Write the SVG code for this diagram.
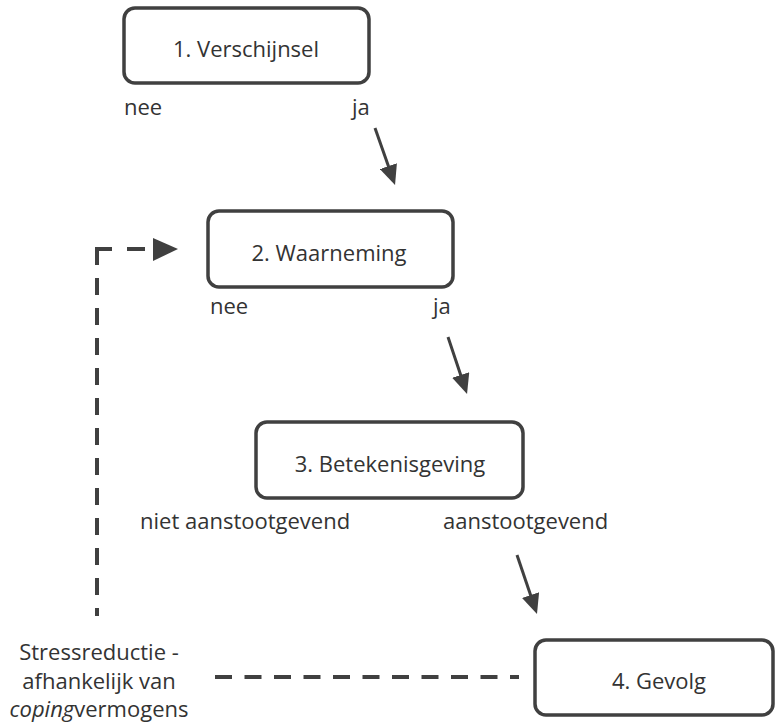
<svg xmlns="http://www.w3.org/2000/svg" width="776" height="723" viewBox="0 0 776 723">
<defs>
<style>
.box{fill:#fff;stroke:#404040;stroke-width:3.5}
.t{font-family:"Open Sans","Liberation Sans",sans-serif;font-size:22px;fill:#333}
.c{text-anchor:middle}
.solid{stroke:#404040;stroke-width:3;fill:none}
.dash{stroke:#404040;stroke-width:4;fill:none}
</style>
<marker id="ah" markerUnits="userSpaceOnUse" markerWidth="20" markerHeight="18" refX="6" refY="9" orient="auto">
<path d="M0,0 L20,9 L0,18 z" fill="#404040"/>
</marker>
</defs>
<rect width="776" height="723" fill="#fff"/>
<g id="connectors">
<line class="solid" x1="375" y1="128" x2="390.4" y2="171.8" marker-end="url(#ah)"/>
<line class="solid" x1="448" y1="337" x2="462.6" y2="380.7" marker-end="url(#ah)"/>
<line class="solid" x1="517" y1="555" x2="532.5" y2="600.7" marker-end="url(#ah)"/>
<path class="dash" d="M97,616 V266" stroke-dasharray="17 13" stroke-dashoffset="9"/>
<path class="dash" d="M97,265 V249 H112"/>
<path class="dash" d="M127,249 H145"/>
<polygon points="153,238 178,249 153,261" fill="#404040"/>
<path class="dash" d="M215,677 H519" stroke-dasharray="17 12.5"/>
</g>
<g id="node1">
<rect class="box" x="124" y="8" width="245" height="75" rx="11"/>
<text class="t c" x="246" y="57">1. Verschijnsel</text>
</g>
<g id="node2">
<rect class="box" x="208" y="211" width="245" height="76" rx="11"/>
<text class="t c" x="329" y="261">2. Waarneming</text>
</g>
<g id="node3">
<rect class="box" x="256" y="422" width="267" height="76" rx="11"/>
<text class="t c" x="390" y="472">3. Betekenisgeving</text>
</g>
<g id="node4">
<rect class="box" x="535" y="640" width="238" height="75" rx="11"/>
<text class="t c" x="659" y="689">4. Gevolg</text>
</g>
<g id="labels">
<text class="t" x="124" y="115">nee</text>
<text class="t" x="352" y="115">ja</text>
<text class="t" x="210" y="314">nee</text>
<text class="t" x="433" y="314">ja</text>
<text class="t" x="140" y="529">niet aanstootgevend</text>
<text class="t" x="443" y="529">aanstootgevend</text>
<text class="t c" x="99" y="660">Stressreductie -</text>
<text class="t c" x="99" y="689">afhankelijk van</text>
<text class="t c" x="99" y="717"><tspan font-style="italic">coping</tspan>vermogens</text>
</g>
</svg>
